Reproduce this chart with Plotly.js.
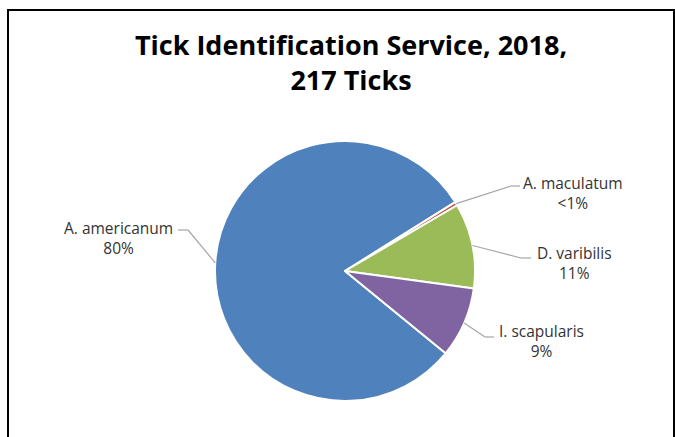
<!DOCTYPE html>
<html><head><meta charset="utf-8">
<script src="https://cdn.plot.ly/plotly-3.0.1.min.js"></script>
<style>html,body{margin:0;padding:0;background:#fff;} #chart{width:675px;height:437px;}</style>
</head><body><div id="chart"></div>
<script>
// ---- data ----
const categories = ["A. americanum", "A. maculatum", "D. varibilis", "I. scapularis"];
const tickCounts = [174, 1, 23, 19];
const titleLines = ["Tick Identification Service, 2018,", "217 Ticks"];

// ---- style / layout ----
const sliceColors = ["#4F81BD", "#C0504D", "#9BBB59", "#8064A2"];
const W = 675, H = 437;
const pieGeom = {cx: 345, cy: 271, r: 130, rotation: 129.3};
// label text centre, horizontal leader segment (text end -> bend), in px
const labelPlace = [
  {c: [118, 238], h0: [178, 230], h1: [188, 230]},
  {c: [573, 193], h0: [520, 186], h1: [511, 186]},
  {c: [574, 263], h0: [531, 258], h1: [521, 258]},
  {c: [541, 341], h0: [494, 337], h1: [485, 337]}
];
const labelFont = {family: "'Open Sans', 'Noto Sans', sans-serif", size: 15.5, color: "#333333"};
const leaderColor = "#A6A6A6";

const px = x => x / W;
const py = y => 1 - y / H;

const total = tickCounts.reduce((a, b) => a + b, 0);
const pctText = tickCounts.map(v => {
  const p = v / total * 100;
  return p < 1 ? "<1%" : Math.round(p) + "%";
});

const trace = {
  type: "pie",
  labels: categories,
  values: tickCounts,
  sort: false,
  direction: "clockwise",
  rotation: pieGeom.rotation,
  textinfo: "none",
  hoverinfo: "label+value+percent",
  marker: {colors: sliceColors, line: {color: "#FFFFFF", width: 2}},
  domain: {
    x: [px(pieGeom.cx - pieGeom.r), px(pieGeom.cx + pieGeom.r)],
    y: [py(pieGeom.cy + pieGeom.r), py(pieGeom.cy - pieGeom.r)]
  },
  showlegend: false
};

const annotations = [];
const shapes = [];
let cum = 0;
tickCounts.forEach((v, i) => {
  const mid = (pieGeom.rotation + (cum + v / 2) / total * 360) * Math.PI / 180;
  cum += v;
  const ex = pieGeom.cx + pieGeom.r * Math.sin(mid);
  const ey = pieGeom.cy - pieGeom.r * Math.cos(mid);
  const L = labelPlace[i];
  annotations.push({
    text: categories[i] + "<br>" + pctText[i],
    x: px(L.c[0]), y: py(L.c[1]), xref: "paper", yref: "paper",
    xanchor: "center", yanchor: "middle", showarrow: false, font: labelFont, align: "center"
  });
  shapes.push({type: "line", xref: "paper", yref: "paper",
    x0: px(L.h0[0]), y0: py(L.h0[1]), x1: px(L.h1[0]), y1: py(L.h1[1]),
    line: {color: leaderColor, width: 1.2}});
  shapes.push({type: "line", xref: "paper", yref: "paper",
    x0: px(L.h1[0]), y0: py(L.h1[1]), x1: px(ex), y1: py(ey),
    line: {color: leaderColor, width: 1.2}});
});

shapes.push({type: "rect", xref: "paper", yref: "paper",
  x0: px(8), x1: px(674), y0: -0.1, y1: py(10),
  line: {color: "#000000", width: 2}, fillcolor: "rgba(0,0,0,0)"});

const layout = {
  width: W, height: H,
  margin: {l: 0, r: 0, t: 0, b: 0},
  paper_bgcolor: "#FFFFFF",
  title: {
    text: titleLines.join("<br>"),
    x: px(351), xanchor: "center", xref: "paper",
    y: py(55), yanchor: "top", yref: "container",
    font: {family: "'Open Sans', 'Noto Sans', sans-serif", size: 27, color: "#000000", weight: "bold"}
  },
  annotations: annotations,
  shapes: shapes
};

Plotly.newPlot("chart", [trace], layout, {displayModeBar: false, staticPlot: true});
</script>
</body></html>
